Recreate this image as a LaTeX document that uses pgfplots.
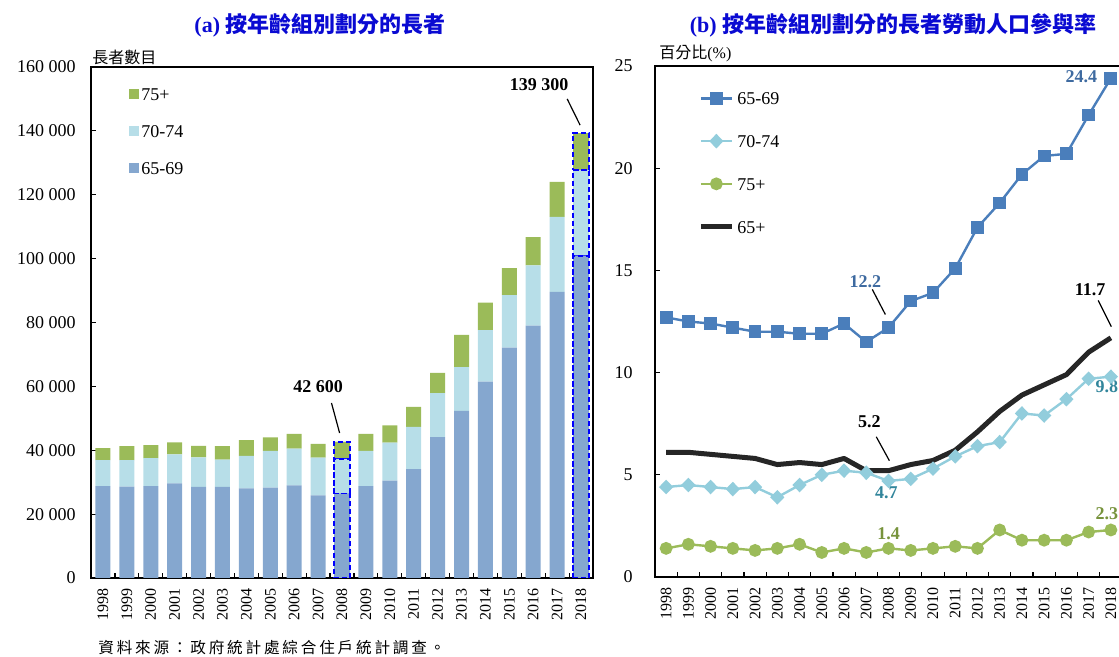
\documentclass[border=0pt]{standalone}
\usepackage{fontspec}
\setmainfont{Liberation Serif}
\newfontfamily\cjk{Noto Sans CJK TC}
\newfontfamily\cjksp[LetterSpace=18]{Noto Sans CJK TC}
\usepackage{pgfplots}
\pgfplotsset{compat=1.18}
\usepackage{pgfplotstable}

\definecolor{cA}{RGB}{133,167,207}
\definecolor{cB}{RGB}{183,222,232}
\definecolor{cC}{RGB}{155,187,89}
\definecolor{lA}{RGB}{74,126,187}
\definecolor{lB}{RGB}{146,205,220}
\definecolor{lC}{RGB}{155,187,89}
\definecolor{lD}{RGB}{38,38,38}
\definecolor{ttl}{RGB}{10,10,210}
\definecolor{tA}{RGB}{62,106,160}
\definecolor{tB}{RGB}{49,133,155}
\definecolor{tC}{RGB}{119,147,60}

\pgfplotstableread{
year a b c
1998 28800 8100 3800
1999 28600 8300 4400
2000 28800 8700 4100
2001 29600 9100 3800
2002 28500 9300 3600
2003 28500 8600 4200
2004 28100 10100 5000
2005 28300 11500 4200
2006 29000 11500 4600
2007 25900 11800 4300
2008 26500 10800 5300
2009 28800 11000 5300
2010 30500 11900 5400
2011 34100 13200 6300
2012 44100 13800 6300
2013 52300 13700 10100
2014 61500 16100 8600
2015 72100 16500 8400
2016 79000 18900 8800
2017 89600 23500 10900
2018 100900 26800 11600
}\bars

\pgfplotstableread{
year a b c d
1998 12.7 4.4 1.4 6.1
1999 12.5 4.5 1.6 6.1
2000 12.4 4.4 1.5 6.0
2001 12.2 4.3 1.4 5.9
2002 12.0 4.4 1.3 5.8
2003 12.0 3.9 1.4 5.5
2004 11.9 4.5 1.6 5.6
2005 11.9 5.0 1.2 5.5
2006 12.4 5.2 1.4 5.8
2007 11.5 5.1 1.2 5.2
2008 12.2 4.7 1.4 5.2
2009 13.5 4.8 1.3 5.5
2010 13.9 5.3 1.4 5.7
2011 15.1 5.9 1.5 6.2
2012 17.1 6.4 1.4 7.1
2013 18.3 6.6 2.3 8.1
2014 19.7 8.0 1.8 8.9
2015 20.6 7.9 1.8 9.4
2016 20.7 8.7 1.8 9.9
2017 22.6 9.7 2.2 11.0
2018 24.4 9.8 2.3 11.7
}\rates

\pgfplotsset{
  base/.style={
    scale only axis, height=255.5pt, clip=false,
    xmin=1997.5, xmax=2018.5, xtick={1998,...,2018},
    minor xtick={1997.5,1998.5,...,2018.5},
    major x tick style={draw=none},
    tick align=inside, xtick pos=bottom, ytick pos=left,
    major tick length=2.5pt, minor tick length=2.5pt,
    axis line style={line width=0.75pt},
    tick style={line width=0.6pt, black},
    /pgf/number format/assume math mode=true,
    xticklabel style={rotate=90, anchor=east, inner xsep=5pt, inner ysep=0pt,
      font=\fontsize{8}{8}\selectfont, /pgf/number format/fixed, /pgf/number format/1000 sep=},
    yticklabel style={anchor=east, inner ysep=0pt, font=\fontsize{9}{9}\selectfont, /pgf/number format/fixed},
    legend cell align=left,
  }
}

\begin{document}
\begin{tikzpicture}[x=1pt,y=1pt]
% ---------- panel (a)
\begin{axis}[base, at={(45.5pt,39.5pt)}, anchor=south west, width=251pt,
  ymin=0, ymax=160000, ytick={0,20000,...,160000}, scaled y ticks=false,
  yticklabel style={/pgf/number format/1000 sep={\ }, inner xsep=7.5pt},
  ybar stacked, bar width=7.5pt,
  reverse legend,
  legend image code/.code={\fill[#1] (0pt,-2.5pt) rectangle (5pt,2.5pt);},
  legend style={at={(axis description cs:0.0757,0.96)}, anchor=north west,
    draw=none, fill=none, inner sep=0pt, row sep=11.85pt, column sep=1pt,
    nodes={inner sep=0pt, text height=6.5pt, text depth=0pt, font=\fontsize{9}{9}\selectfont}},
  ]
\addplot[fill=cA, draw=none] table[x=year,y=a]{\bars};
\addplot[fill=cB, draw=none] table[x=year,y=b]{\bars};
\addplot[fill=cC, draw=none] table[x=year,y=c]{\bars};
\legend{65-69,70-74,75+}
\node[font=\bfseries\fontsize{9}{9}\selectfont] at (axis cs:2007.0,59800) {42\ 600};
\draw[line width=0.6pt] (axis cs:2007.56,54800) -- (axis cs:2007.9,45400);
\node[font=\bfseries\fontsize{9}{9}\selectfont] at (axis cs:2016.25,154350) {139\ 300};
\draw[line width=0.6pt] (axis cs:2017.42,150000) -- (axis cs:2017.96,141800);
\end{axis}
% dashed highlight of 2008 and 2018
\begin{axis}[at={(45.5pt,39.5pt)}, anchor=south west, scale only axis,
  width=251pt, height=255.5pt, hide axis,
  xmin=1997.5, xmax=2018.5, ymin=0, ymax=160000,
  ybar stacked, bar width=8pt]
\addplot[fill=cA, draw=blue, dash pattern=on 2.6pt off 1.4pt, line width=0.85pt] coordinates {(2008,26500) (2018,100900)};
\addplot[fill=cB, draw=blue, dash pattern=on 2.6pt off 1.4pt, line width=0.85pt] coordinates {(2008,10800) (2018,26800)};
\addplot[fill=cC, draw=blue, dash pattern=on 2.6pt off 1.4pt, line width=0.85pt] coordinates {(2008,5300) (2018,11600)};
\end{axis}
% ---------- panel (b)
\begin{axis}[base, at={(327.5pt,40pt)}, anchor=south west, width=233.5pt,
  ymin=0, ymax=25, ytick={0,5,...,25},
  yticklabel style={inner xsep=11pt},
  legend image code/.code={\draw[mark repeat=2,mark phase=2,#1] plot coordinates {(0pt,0pt) (7.75pt,0pt) (15.5pt,0pt)};},
  legend style={at={(axis description cs:0.092,0.95)}, anchor=north west,
    draw=none, fill=none, inner sep=0pt, row sep=14.85pt, column sep=1.5pt,
    nodes={inner sep=0pt, text height=6.5pt, text depth=0pt, font=\fontsize{9}{9}\selectfont}},
  ]
\addplot[lA, line width=1.2pt, mark=square*, mark size=2.6pt] table[x=year,y=a]{\rates};
\addplot[lB, line width=1.2pt, mark=diamond*, mark size=2.8pt, mark options={xscale=1.3}] table[x=year,y=b]{\rates};
\addplot[lC, line width=1.2pt, mark=*, mark size=2.6pt] table[x=year,y=c]{\rates};
\addplot[lD, line width=2.5pt, no marks, line join=round] table[x=year,y=d]{\rates};
\legend{65-69,70-74,75+,65+}
\node[font=\bfseries\fontsize{9}{9}\selectfont, text=tA] at (axis cs:2016.67,24.5) {24.4};
\node[font=\bfseries\fontsize{9}{9}\selectfont, text=tA] at (axis cs:2006.96,14.46) {12.2};
\draw[line width=0.6pt] (axis cs:2007.27,14.07) -- (axis cs:2007.86,12.84);
\node[font=\bfseries\fontsize{9}{9}\selectfont] at (axis cs:2017.07,14.07) {11.7};
\draw[line width=0.6pt] (axis cs:2017.43,13.53) -- (axis cs:2018.02,12.25);
\node[font=\bfseries\fontsize{9}{9}\selectfont] at (axis cs:2007.14,7.6) {5.2};
\draw[line width=0.6pt] (axis cs:2007.45,6.86) -- (axis cs:2008.04,5.69);
\node[font=\bfseries\fontsize{9}{9}\selectfont, text=tB] at (axis cs:2007.9,4.12) {4.7};
\node[font=\bfseries\fontsize{9}{9}\selectfont, text=tB] at (axis cs:2017.82,9.31) {9.8};
\node[font=\bfseries\fontsize{9}{9}\selectfont, text=tC] at (axis cs:2008.0,2.11) {1.4};
\node[font=\bfseries\fontsize{9}{9}\selectfont, text=tC] at (axis cs:2017.82,3.09) {2.3};
\end{axis}
% ---------- titles and notes
\node[text=ttl, font=\bfseries\fontsize{11}{11}\selectfont] at (160pt,316pt) {(a) {\cjk 按年齡組別劃分的長者}};
\node[text=ttl, font=\bfseries\fontsize{11}{11}\selectfont] at (446.5pt,316pt) {(b) {\cjk 按年齡組別劃分的長者勞動人口參與率}};
\node[anchor=west, inner sep=0pt, font=\fontsize{8}{8}\selectfont] at (46pt,300pt) {\cjk 長者數目};
\node[anchor=west, inner sep=0pt, font=\fontsize{8}{8}\selectfont] at (329.5pt,302pt) {{\cjk 百分比}(\%)};
\node[anchor=west, inner sep=0pt, font=\fontsize{7.8}{7.8}\selectfont] at (49pt,4.5pt) {\cjksp 資料來源：政府統計處綜合住戶統計調查。};
\pgfresetboundingbox
\path[use as bounding box] (0pt,0pt) rectangle (559.5pt,328.5pt);
\end{tikzpicture}
\end{document}
